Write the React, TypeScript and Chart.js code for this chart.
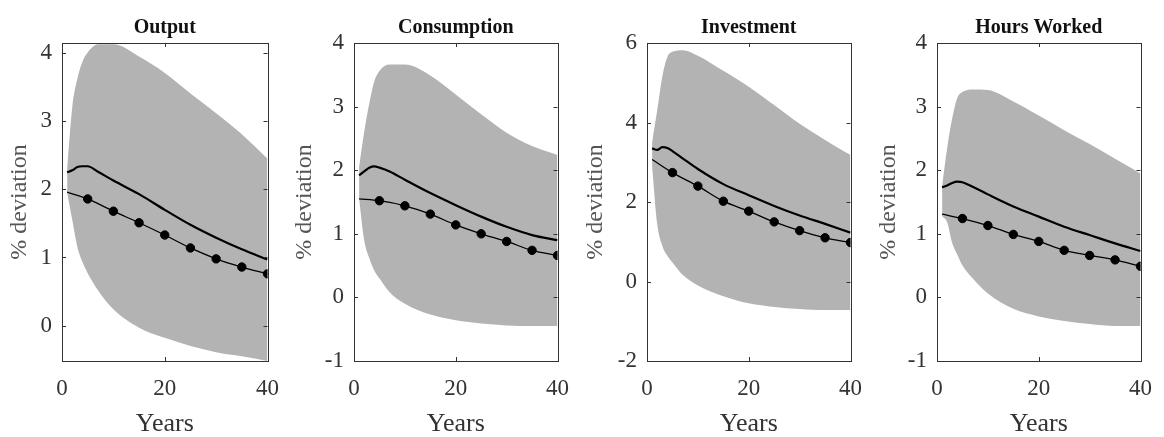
import React, { useEffect, useRef } from "react";
import { Chart, registerables } from "chart.js";

Chart.register(...registerables);

// ---------------- data ----------------
const panelTitles = ["Output", "Consumption", "Investment", "Hours Worked"];
const xAxisLabel = "Years";
const yAxisLabel = "% deviation";

const bandYears = [1, 2, 3, 4, 5, 7, 10, 15, 20, 25, 30, 35, 40];
const markerYears = [1, 5, 10, 15, 20, 25, 30, 35, 40];
const xTickValues = [0, 20, 40];

// Output
const outputUpper = [2.3, 3.21, 3.63, 3.88, 4.01, 4.13, 4.13, 3.95, 3.71, 3.41, 3.12, 2.81, 2.45];
const outputLower = [1.95, 1.55, 1.15, 0.93, 0.77, 0.52, 0.24, -0.03, -0.18, -0.3, -0.39, -0.45, -0.52];
const outputSolid = [2.25, 2.28, 2.33, 2.34, 2.34, 2.26, 2.13, 1.93, 1.7, 1.48, 1.29, 1.12, 0.97];
const outputMarked = [1.96, 1.86, 1.68, 1.51, 1.33, 1.14, 0.98, 0.86, 0.76];
const outputTicks = [0, 1, 2, 3, 4];
const outputRange = [-0.52, 4.15];

// Consumption
const consUpper = [2.05, 2.6, 3.05, 3.4, 3.56, 3.66, 3.66, 3.49, 3.19, 2.88, 2.59, 2.38, 2.24];
const consLower = [1.55, 0.9, 0.62, 0.42, 0.3, 0.08, -0.1, -0.27, -0.36, -0.41, -0.44, -0.45, -0.45];
const consSolid = [1.92, 1.98, 2.04, 2.06, 2.04, 1.98, 1.85, 1.64, 1.45, 1.27, 1.11, 0.98, 0.9];
const consMarked = [1.55, 1.52, 1.44, 1.31, 1.14, 1.0, 0.88, 0.74, 0.66];
const consTicks = [-1, 0, 1, 2, 3, 4];
const consRange = [-1, 4];

// Investment
const invUpper = [3.5, 4.3, 5.15, 5.65, 5.78, 5.82, 5.68, 5.3, 4.9, 4.44, 3.97, 3.56, 3.18];
const invLower = [2.9, 1.45, 0.9, 0.65, 0.48, 0.17, -0.1, -0.37, -0.55, -0.64, -0.69, -0.72, -0.72];
const invSolid = [3.35, 3.31, 3.38, 3.36, 3.28, 3.1, 2.83, 2.45, 2.17, 1.9, 1.66, 1.45, 1.23];
const invMarked = [3.07, 2.74, 2.4, 2.02, 1.77, 1.5, 1.28, 1.1, 0.98];
const invTicks = [-2, 0, 2, 4, 6];
const invRange = [-2, 6];

// Hours worked
const hoursUpper = [1.75, 2.35, 2.82, 3.14, 3.23, 3.27, 3.26, 3.08, 2.86, 2.63, 2.41, 2.18, 1.95];
const hoursLower = [1.28, 1.18, 0.85, 0.67, 0.5, 0.3, 0.06, -0.18, -0.3, -0.37, -0.42, -0.45, -0.45];
const hoursSolid = [1.73, 1.76, 1.8, 1.82, 1.81, 1.74, 1.62, 1.43, 1.27, 1.11, 0.98, 0.85, 0.73];
const hoursMarked = [1.31, 1.24, 1.13, 0.99, 0.88, 0.74, 0.66, 0.59, 0.49];
const hoursTicks = [-1, 0, 1, 2, 3, 4];
const hoursRange = [-1, 4];

// ---------------- layout / style ----------------
const FONT = "'Liberation Serif', 'Times New Roman', serif";
const BAND_COLOR = "#b3b3b3";
const Y_AXIS_W = 64;
const X_AXIS_H = 76;
const PAD_R = 18;
const CANVAS_H = 437;

const panels = [
  { title: panelTitles[0], upper: outputUpper, lower: outputLower, solid: outputSolid, marked: outputMarked, ticks: outputTicks, range: outputRange, plotLeft: 62, plotRight: 275, yTitlePad: 10 },
  { title: panelTitles[1], upper: consUpper, lower: consLower, solid: consSolid, marked: consMarked, ticks: consTicks, range: consRange, plotLeft: 354, plotRight: 565, yTitlePad: 3 },
  { title: panelTitles[2], upper: invUpper, lower: invLower, solid: invSolid, marked: invMarked, ticks: invTicks, range: invRange, plotLeft: 647, plotRight: 858, yTitlePad: 0.5 },
  { title: panelTitles[3], upper: hoursUpper, lower: hoursLower, solid: hoursSolid, marked: hoursMarked, ticks: hoursTicks, range: hoursRange, plotLeft: 937, plotRight: 1148, yTitlePad: 3.7 },
];

const toPoints = (xs: number[], ys: number[]) => xs.map((x, i) => ({ x, y: ys[i] }));

const boxPlugin = {
  id: "axisBox",
  afterDatasetsDraw(chart: any) {
    const { ctx, chartArea, scales } = chart;
    const { left, right, top, bottom } = chartArea;
    ctx.save();
    ctx.strokeStyle = "#333";
    ctx.lineWidth = 1;
    ctx.strokeRect(Math.round(left) + 0.5, Math.round(top) + 0.5, Math.round(right - left), Math.round(bottom - top));
    const tl = 4;
    ctx.beginPath();
    scales.x.ticks.forEach((t: any) => {
      const px = Math.round(scales.x.getPixelForValue(t.value)) + 0.5;
      ctx.moveTo(px, bottom);
      ctx.lineTo(px, bottom - tl);
      ctx.moveTo(px, top);
      ctx.lineTo(px, top + tl);
    });
    scales.y.ticks.forEach((t: any) => {
      const py = Math.round(scales.y.getPixelForValue(t.value)) + 0.5;
      ctx.moveTo(left, py);
      ctx.lineTo(left + tl, py);
      ctx.moveTo(right, py);
      ctx.lineTo(right - tl, py);
    });
    ctx.stroke();
    ctx.restore();
  },
};

function Panel({ p }: { p: (typeof panels)[number] }) {
  const ref = useRef<HTMLCanvasElement | null>(null);
  const canvasLeft = p.plotLeft - Y_AXIS_W;
  const canvasW = p.plotRight - p.plotLeft + Y_AXIS_W + PAD_R;

  useEffect(() => {
    if (!ref.current) return;
    const markerRadii = markerYears.map((_, i) => (i === 0 ? 0 : 4.2));
    const chart = new Chart(ref.current, {
      type: "line",
      data: {
        datasets: [
          {
            label: "marked",
            data: toPoints(markerYears, p.marked),
            borderColor: "#000",
            borderWidth: 1.3,
            pointRadius: markerRadii,
            pointBackgroundColor: "#000",
            pointBorderColor: "#000",
            pointBorderWidth: 1,
            cubicInterpolationMode: "monotone",
            fill: false,
            order: 0,
          },
          {
            label: "solid",
            data: toPoints(bandYears, p.solid),
            borderColor: "#000",
            borderWidth: 2.2,
            pointRadius: 0,
            cubicInterpolationMode: "monotone",
            fill: false,
            order: 1,
          },
          {
            label: "upper",
            data: toPoints(bandYears, p.upper),
            borderWidth: 0,
            borderColor: BAND_COLOR,
            backgroundColor: BAND_COLOR,
            pointRadius: 0,
            cubicInterpolationMode: "monotone",
            fill: "+1",
            order: 2,
          },
          {
            label: "lower",
            data: toPoints(bandYears, p.lower),
            borderWidth: 0,
            borderColor: BAND_COLOR,
            backgroundColor: BAND_COLOR,
            pointRadius: 0,
            cubicInterpolationMode: "monotone",
            fill: false,
            order: 3,
          },
        ],
      },
      options: {
        responsive: false,
        animation: false,
        events: [],
        layout: { padding: { left: 0, right: PAD_R, top: 0, bottom: 0 } },
        plugins: {
          legend: { display: false },
          tooltip: { enabled: false },
          filler: { drawTime: "beforeDatasetsDraw" },
          title: {
            display: true,
            fullSize: false,
            text: p.title,
            color: "#111",
            font: { family: FONT, size: 20, weight: "bold", lineHeight: 1.2 },
            padding: { top: 16, bottom: 3 },
          },
        },
        scales: {
          x: {
            type: "linear",
            min: 0,
            max: 40,
            grid: { display: false, drawTicks: false },
            border: { display: false },
            afterBuildTicks: (s: any) => {
              s.ticks = xTickValues.map((v) => ({ value: v }));
            },
            afterFit: (s: any) => {
              s.height = X_AXIS_H;
            },
            ticks: {
              color: "#333",
              font: { family: FONT, size: 23, lineHeight: 1.2 },
              padding: 14,
              maxRotation: 0,
              autoSkip: false,
            },
            title: {
              display: true,
              text: xAxisLabel,
              color: "#333",
              font: { family: FONT, size: 26, lineHeight: 1 },
              padding: 0,
            },
          },
          y: {
            type: "linear",
            min: p.range[0],
            max: p.range[1],
            grid: { display: false, drawTicks: false },
            border: { display: false },
            afterBuildTicks: (s: any) => {
              s.ticks = p.ticks.map((v) => ({ value: v }));
            },
            afterFit: (s: any) => {
              s.width = Y_AXIS_W;
            },
            ticks: {
              color: "#333",
              font: { family: FONT, size: 23, lineHeight: 1.2 },
              padding: 10,
              autoSkip: false,
            },
            title: {
              display: true,
              text: yAxisLabel,
              color: "#555",
              font: { family: FONT, size: 24, lineHeight: 1 },
              padding: { top: p.yTitlePad, bottom: 0 },
            },
          },
        },
      },
      plugins: [boxPlugin],
    } as any);
    return () => chart.destroy();
  }, []);

  return (
    <canvas
      ref={ref}
      width={canvasW}
      height={CANVAS_H}
      style={{ position: "absolute", left: canvasLeft, top: 0, width: canvasW, height: CANVAS_H }}
    />
  );
}

export default function App() {
  return (
    <div
      style={{
        position: "fixed",
        left: 0,
        top: 0,
        width: 1164,
        height: 437,
        overflow: "hidden",
        background: "#fff",
      }}
    >
      {panels.map((p) => (
        <Panel key={p.title} p={p} />
      ))}
    </div>
  );
}
